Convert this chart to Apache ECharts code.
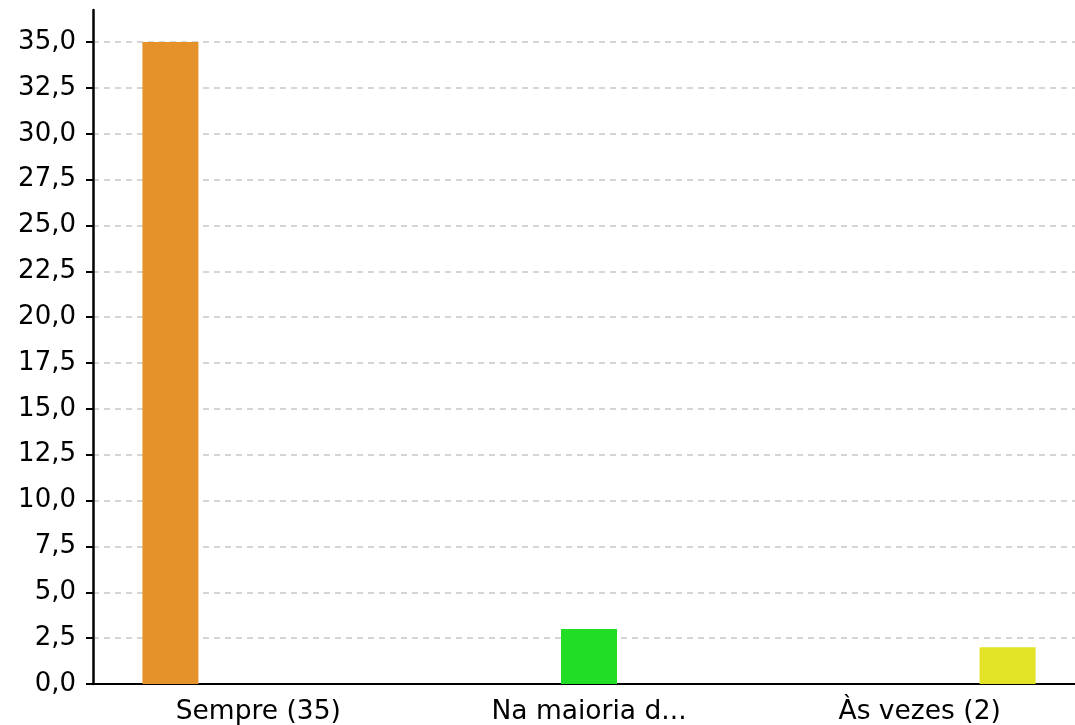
<!DOCTYPE html>
<html>
<head>
<meta charset="utf-8">
<script src="https://cdn.jsdelivr.net/npm/echarts@6/dist/echarts.min.js"></script>
<style>html,body{margin:0;padding:0;background:#fff}#c{width:1075px;height:725px}</style>
</head>
<body>
<div id="c"></div>
<script>
const categories = ['Sempre (35)', 'Na maioria d...', 'Às vezes (2)'];
const counts = [35, 3, 2];
const barColors = ['#E6922B', '#22DD26', '#E2E227'];
const yTicks = [0, 2.5, 5, 7.5, 10, 12.5, 15, 17.5, 20, 22.5, 25, 27.5, 30, 32.5, 35];
const yMax = 36.75;

const FONT = 'DejaVu Sans';
const series = counts.map((v, i) => ({
  type: 'bar',
  name: categories[i],
  data: counts.map((_, j) => (j === i ? v : '-')),
  barWidth: 56,
  barGap: '57%',
  itemStyle: { color: barColors[i] },
  silent: true
}));

const chart = echarts.init(document.getElementById('c'), null, { renderer: 'canvas' });
chart.setOption({
  animation: false,
  grid: { left: 93, top: 10, width: 992, height: 674, containLabel: false, outerBoundsMode: 'none' },
  xAxis: {
    type: 'category',
    data: categories,
    axisLine: { show: true, lineStyle: { color: '#000', width: 2 } },
    axisTick: { show: false },
    axisLabel: { color: '#000', fontFamily: FONT, fontSize: 26.5, margin: 15 },
    splitLine: { show: false }
  },
  yAxis: {
    type: 'value',
    min: 0,
    max: yMax,
    axisLine: { show: true, lineStyle: { color: '#000', width: 2.5 } },
    axisTick: { show: true, length: 7, lineStyle: { color: '#000', width: 2 }, customValues: yTicks },
    axisLabel: {
      color: '#000', fontFamily: FONT, fontSize: 26, margin: 17,
      padding: [4, 0, 0, 0],
      customValues: yTicks,
      formatter: v => v.toFixed(1).replace('.', ',')
    },
    splitLine: { show: true, lineStyle: { color: '#c8c8c8', width: 1.5, type: [6, 5] } }
  },
  series: series
});
</script>
</body>
</html>
